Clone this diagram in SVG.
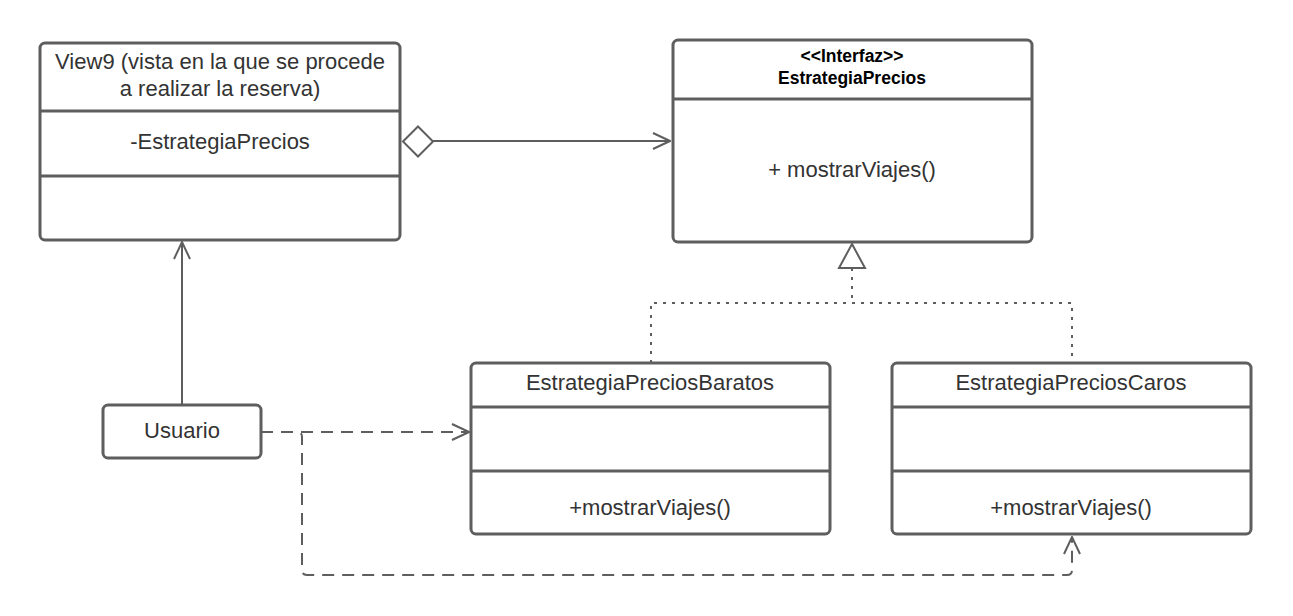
<svg xmlns="http://www.w3.org/2000/svg" width="1293" height="616" viewBox="0 0 1293 616">
<style>
.box{fill:#fff;stroke:#5e5e5e;stroke-width:3}
.div{stroke:#5e5e5e;stroke-width:3}
.t{font-family:"Liberation Sans",Arial,sans-serif;font-size:22px;fill:#333;text-anchor:middle}
.b{font-family:"Liberation Sans",Arial,sans-serif;font-size:17.5px;font-weight:bold;fill:#000;text-anchor:middle}
.c{fill:none;stroke:#5e5e5e;stroke-width:2}
.dash{stroke-dasharray:12 8}
.dot{stroke-dasharray:3 6}
</style>
<defs>
<marker id="open" viewBox="0 0 20 20" refX="19" refY="10" markerWidth="20" markerHeight="20" markerUnits="userSpaceOnUse" orient="auto">
<path d="M2 2 L19 10 L2 18" fill="none" stroke="#5e5e5e" stroke-width="2"/>
</marker>
</defs>
<rect width="1293" height="616" fill="#fff"/>
<g id="connectors">
<path class="c" d="M432 141 H670" marker-end="url(#open)"/>
<path d="M403 141.5 L418 126.5 L433 141.5 L418 156.5 Z" fill="#fff" stroke="#5e5e5e" stroke-width="2"/>
<path class="c" d="M182 405 V242" marker-end="url(#open)"/>
<path class="c dot" d="M852 268 V303"/>
<path class="c dot" d="M651 363 V303 H1072 V363"/>
<path d="M852 244 L865 268 L839 268 Z" fill="#fff" stroke="#5e5e5e" stroke-width="2"/>
<path class="c dash" d="M261 432 H469" marker-end="url(#open)"/>
<path class="c dash" d="M261 432 H297 Q302 432 302 437 V570 Q302 575 307 575 H1067 Q1072 575 1072 570 V537" marker-end="url(#open)"/>
</g>
<g id="view9">
<rect class="box" x="40" y="43" width="360" height="197" rx="5"/>
<line class="div" x1="40" y1="111" x2="400" y2="111"/>
<line class="div" x1="40" y1="176" x2="400" y2="176"/>
<text class="t" x="220" y="69">View9 (vista en la que se procede</text>
<text class="t" x="220" y="96">a realizar la reserva)</text>
<text class="t" x="220" y="149">-EstrategiaPrecios</text>
</g>
<g id="estrategiaPrecios">
<rect class="box" x="673" y="40" width="359" height="202" rx="5"/>
<line class="div" x1="673" y1="99" x2="1032" y2="99"/>
<text class="b" x="852" y="62">&lt;&lt;Interfaz&gt;&gt;</text>
<text class="b" x="852" y="84">EstrategiaPrecios</text>
<text class="t" x="852" y="177">+ mostrarViajes()</text>
</g>
<g id="baratos">
<rect class="box" x="471" y="363" width="359" height="171" rx="5"/>
<line class="div" x1="471" y1="407" x2="830" y2="407"/>
<line class="div" x1="471" y1="471" x2="830" y2="471"/>
<text class="t" x="650" y="390">EstrategiaPreciosBaratos</text>
<text class="t" x="650" y="515">+mostrarViajes()</text>
</g>
<g id="caros">
<rect class="box" x="892" y="363" width="359" height="171" rx="5"/>
<line class="div" x1="892" y1="407" x2="1251" y2="407"/>
<line class="div" x1="892" y1="471" x2="1251" y2="471"/>
<text class="t" x="1071" y="390">EstrategiaPreciosCaros</text>
<text class="t" x="1071" y="515">+mostrarViajes()</text>
</g>
<g id="usuario">
<rect class="box" x="103" y="405" width="158" height="53" rx="5"/>
<text class="t" x="182" y="438">Usuario</text>
</g>
</svg>
